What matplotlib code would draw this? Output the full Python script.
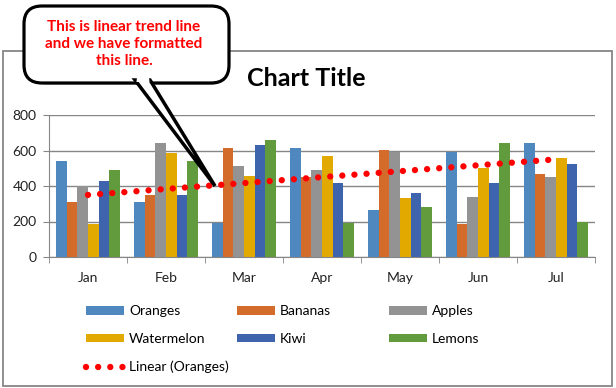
import numpy as np
import matplotlib
matplotlib.use('Agg')
import matplotlib.pyplot as plt
from matplotlib.patches import FancyBboxPatch, Rectangle, Polygon
from matplotlib.legend import Legend

plt.rcParams['font.family'] = ['Lato', 'DejaVu Sans']

months = ['Jan', 'Feb', 'Mar', 'Apr', 'May', 'Jun', 'Jul']
oranges = [540, 310, 190, 615, 265, 590, 640]
bananas = [310, 350, 615, 450, 605, 185, 465]
apples = [400, 640, 515, 490, 590, 340, 450]
watermelon = [185, 585, 455, 570, 335, 500, 555]
kiwi = [430, 350, 630, 415, 360, 415, 525]
lemons = [490, 540, 660, 190, 280, 640, 200]

series_names = ['Oranges', 'Bananas', 'Apples', 'Watermelon', 'Kiwi', 'Lemons']
series_vals = [oranges, bananas, apples, watermelon, kiwi, lemons]
colors = ['#4F88BE', '#D36B2B', '#939393', '#E2AA00', '#3D64AD', '#629A3E']
yticks = [0, 200, 400, 600, 800]

W, H = 616, 388
fig = plt.figure(figsize=(W / 100, H / 100), dpi=100)
grid_c = '#868686'

# plot area in pixels: x 49..595, y 115..257
ax = fig.add_axes([49 / W, (H - 257) / H, 546 / W, 142 / H])
x = np.arange(len(months))
bw = 0.135
bars = []
for i, (name, vals) in enumerate(zip(series_names, series_vals)):
    b = ax.bar(x + (i - 2.5) * bw, vals, bw, color=colors[i], label=name, zorder=2)
    bars.append(b)

# linear trend of oranges
k, c = np.polyfit(x, oranges, 1)
trend, = ax.plot(x, k * x + c, color='#FF0000', lw=4.6, linestyle=(0, (0.001, 1.9)),
                 dash_capstyle='round', zorder=3, label='Linear (Oranges)')

ax.set_xlim(-0.5, len(months) - 0.5)
ax.set_ylim(0, 800)
ax.set_yticks(yticks)
ax.set_xticks(x)
ax.set_xticklabels(months)
ax.set_xticks(np.arange(-0.5, len(months)), minor=True)
ax.tick_params(axis='x', which='major', length=0, pad=11, labelsize=10, labelcolor='#222222')
ax.tick_params(axis='x', which='minor', length=4, color=grid_c, direction='out')
ax.tick_params(axis='y', length=4, color=grid_c, pad=5, labelsize=10, labelcolor='#222222')
ax.yaxis.grid(True, color=grid_c, lw=1, zorder=0)
ax.set_axisbelow(True)
for s in ['top', 'right']:
    ax.spines[s].set_visible(False)
for s in ['left', 'bottom']:
    ax.spines[s].set_color(grid_c)

# overlay in pixel coordinates
ov = fig.add_axes([0, 0, 1, 1], zorder=5)
ov.set_xlim(0, W)
ov.set_ylim(H, 0)
ov.axis('off')

ov.add_patch(Rectangle((3, 50.5), 609, 335.5, fill=False, ec=grid_c, lw=1.3))
ov.text(306, 79, 'Chart Title', ha='center', va='center', fontsize=18, fontweight='bold')

# legend, three columns placed like the original
leg_kw = dict(loc='upper left', bbox_transform=ov.transData, frameon=False, borderpad=0,
              borderaxespad=0, handlelength=2.75, handleheight=0.6, handletextpad=0.35,
              labelspacing=1.15, fontsize=10)
col1 = [bars[0], bars[3], trend]
col2 = [bars[1], bars[4]]
col3 = [bars[2], bars[5]]
for xpos, col in [(86, col1), (237, col2), (389, col3)]:
    lg = Legend(ov, col, [h.get_label() for h in col], bbox_to_anchor=(xpos, 305), **leg_kw)
    ov.add_artist(lg)

# callout bubble
shadow = FancyBboxPatch((30, 13), 198, 72, boxstyle='round,pad=0,rounding_size=18',
                        fc='#9a9a9a', ec='none', alpha=0.5, zorder=1)
ov.add_patch(shadow)
box = FancyBboxPatch((24, 6), 205, 77, boxstyle='round,pad=0,rounding_size=18',
                     fc='white', ec='black', lw=2.3, zorder=2)
ov.add_patch(box)
ov.add_patch(Polygon([(135, 80), (215, 186), (150, 80)], closed=True, fc='white',
                     ec='black', lw=2.5, joinstyle='miter', zorder=3))
ov.add_patch(Polygon([(137, 77), (149, 77), (149.5, 82), (136.5, 82)], closed=True,
                     fc='white', ec='none', zorder=4))
ov.text(124, 44, 'This is linear trend line\nand we have formatted\nthis line.',
        ha='center', va='center', fontsize=11, fontweight='bold', color='#FF0000',
        linespacing=1.27, zorder=5)

fig.savefig('out.png', dpi=100)
